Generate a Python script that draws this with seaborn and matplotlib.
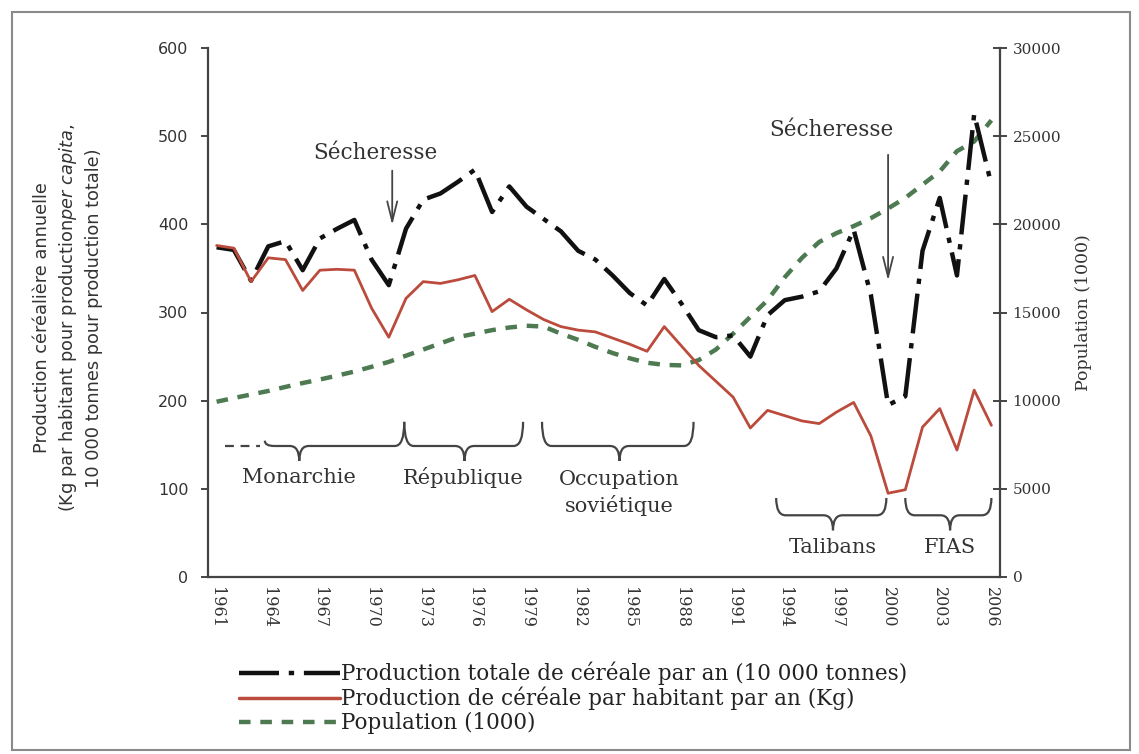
import matplotlib
matplotlib.use("Agg")

import numpy as np
import pandas as pd
import matplotlib.pyplot as plt
import seaborn as sns
from matplotlib.path import Path
from matplotlib.patches import PathPatch, Rectangle
from matplotlib.lines import Line2D

# ---- data ----
years = list(range(1961, 2007))

per_capita = [376, 373, 335, 362, 360, 325, 348, 349, 348, 305,
              272, 316, 335, 333, 337, 342, 301, 315, 303, 292,
              284, 280, 278, 271, 264, 256, 284, 262, 240, 222,
              204, 169, 189, 183, 177, 174, 187, 198, 160, 95,
              99, 170, 191, 144, 212, 172]

total_prod = [374, 371, 336, 375, 381, 348, 384, 395, 405, 360,
              331, 395, 428, 435, 448, 462, 414, 443, 420, 406,
              392, 370, 360, 342, 322, 308, 338, 310, 280, 272,
              274, 250, 297, 314, 318, 324, 350, 394, 320, 195,
              205, 370, 430, 342, 525, 445]

population = [9940, 10150, 10350, 10550, 10780, 11000, 11200, 11420, 11650, 11920,
              12200, 12550, 12900, 13250, 13600, 13800, 14000, 14150, 14250, 14200,
              13800, 13450, 13050, 12700, 12400, 12150, 12030, 12000, 12300, 12900,
              13800, 14750, 15700, 17000, 18100, 19000, 19500, 19900, 20350, 20900,
              21500, 22250, 23000, 24150, 24700, 25900]

label_total = "Production totale de céréale par an (10 000 tonnes)"
label_pc = "Production de céréale par habitant par an (Kg)"
label_pop = "Population (1000)"

# periods: name, start, end, tip position (years)
period_names = ["Monarchie", "République", "Occupation\nsoviétique", "Talibans", "FIAS"]
period_start = [1963.8, 1971.9, 1979.9, 1993.5, 2001.0]
period_end = [1971.9, 1978.8, 1988.7, 1999.9, 2006.0]
period_tip = [1965.8, 1975.4, 1984.4, 1996.8, 2003.6]

drought_years = [1971.2, 2000.0]

BLACK = "#111111"
RED = "#bb4b3c"
GREEN = "#4d7a50"
AXC = "#444444"
SERIF = "DejaVu Serif"

sns.set_theme(style="white")
plt.rcParams["font.family"] = [SERIF, "DejaVu Sans"]
plt.rcParams["mathtext.fontset"] = "custom"
plt.rcParams["mathtext.it"] = "DejaVu Sans:italic"
plt.rcParams["mathtext.rm"] = "DejaVu Sans"

fig = plt.figure(figsize=(11.39, 7.54), dpi=100)
ax = fig.add_axes([208 / 1139, 1 - 577 / 754, 792 / 1139, 529 / 754])
ax2 = ax.twinx()

df = pd.DataFrame({"year": years, "pc": per_capita, "tot": total_prod, "pop": population})

sns.lineplot(data=df, x="year", y="pop", ax=ax2, color=GREEN, lw=3.2)
ax2.lines[-1].set_linestyle((0, (2.6, 2.2)))
sns.lineplot(data=df, x="year", y="tot", ax=ax, color=BLACK, lw=3.2)
ax.lines[-1].set_linestyle((0, (9, 2.2, 1.2, 2.2)))
sns.lineplot(data=df, x="year", y="pc", ax=ax, color=RED, lw=2.0)

ax.set_zorder(ax2.get_zorder() + 1)
ax.patch.set_visible(False)

ax.set_xlim(1960.5, 2006.5)
ax.set_ylim(0, 600)
ax2.set_ylim(0, 30000)

for a in (ax, ax2):
    a.spines["top"].set_visible(False)
    for s in ("left", "right", "bottom"):
        a.spines[s].set_color(AXC)
        a.spines[s].set_linewidth(1.6)
    a.grid(False)
ax.spines["right"].set_visible(False)
ax2.spines["left"].set_visible(False)
ax2.spines["bottom"].set_visible(False)

ax.set_yticks(range(0, 601, 100))
ax.tick_params(axis="y", direction="out", length=5, width=1.4, color=AXC, pad=9,
               labelsize=11.5, labelcolor="#333333")
for t in ax.get_yticklabels():
    t.set_family("DejaVu Sans")

ax2.set_yticks(range(0, 30001, 5000))
ax2.tick_params(axis="y", direction="inout", length=10, width=1.4, color=AXC, pad=4,
                labelsize=11, labelcolor="#333333")

ax.set_xticks(years[::3])
ax.set_xticklabels([str(y) for y in years[::3]], rotation=-90, fontsize=11.5, color="#333333")
ax.set_xticks(np.arange(1960.5, 2007, 1.0), minor=True)
ax.tick_params(axis="x", which="major", length=0, pad=7)
ax.tick_params(axis="x", which="minor", direction="out", length=5, width=1.0, color=AXC)

ax.set_xlabel("")
ax.set_ylabel("")
ax2.set_ylabel("Population (1000)", fontsize=12.5, color="#333333", labelpad=10)

# left axis label, three lines
left_lines = ["Production céréalière annuelle",
              r"(Kg par habitant pour production$\mathit{per\ capita}$,",
              "10 000 tonnes pour production totale)"]
for xp, txt in zip([42, 68, 94], left_lines):
    fig.text(xp / 1139, 1 - 318 / 754, txt, rotation=90, ha="center", va="center",
             fontsize=12.8, family="DejaVu Sans", color="#333333")

# drought annotations
for xd, (tx, ty, y0, y1) in zip(drought_years, [(1970.2, 481, 464, 396), (1996.7, 507, 482, 333)]):
    ax.text(tx, ty, "Sécheresse", ha="center", va="center", fontsize=15.5, color="#333333")
    ax.annotate("", xy=(xd, y1), xytext=(xd, y0),
                arrowprops=dict(arrowstyle="->,head_length=1.2,head_width=0.3",
                                color="#444444", lw=1.3))


def brace(ax, x0, x1, xt, y_top0, y_top1, y_mid, y_tip, w=0.55):
    verts = [(x0, y_top0), (x0, y_mid), (x0 + w, y_mid),
             (xt - w, y_mid), (xt, y_mid), (xt, y_tip),
             (xt, y_mid), (xt + w, y_mid),
             (x1 - w, y_mid), (x1, y_mid), (x1, y_top1)]
    codes = [Path.MOVETO, Path.CURVE3, Path.CURVE3,
             Path.LINETO, Path.CURVE3, Path.CURVE3,
             Path.CURVE3, Path.CURVE3,
             Path.LINETO, Path.CURVE3, Path.CURVE3]
    ax.add_patch(PathPatch(Path(verts, codes), fill=False, ec="#444444", lw=1.6))


upper = dict(top=176, mid=148.6, tip=131.6, text=113)
lower = dict(top=89.6, mid=70, tip=53, text=34)
for i, (name, s, e, t) in enumerate(zip(period_names, period_start, period_end, period_tip)):
    lv = upper if i < 3 else lower
    top0 = lv["top"] if i > 0 else lv["mid"] + 6
    brace(ax, s, e, t, top0, lv["top"], lv["mid"], lv["tip"])
    ty = lv["text"] if "\n" not in name else 95
    ax.text(t if i != 1 else t - 0.1, ty, name, ha="center", va="center", fontsize=15,
            color="#333333", linespacing=1.35)
# dashed extension of the monarchy period before 1961
ax.plot([1961.5, 1963.5], [148.6, 148.6], color="#444444", lw=1.6, ls=(0, (4, 3)))

# legend below
handles = [Line2D([], [], color=BLACK, lw=3.2, ls=(0, (9, 2.2, 1.2, 2.2))),
           Line2D([], [], color=RED, lw=2.5),
           Line2D([], [], color=GREEN, lw=3.2, ls=(0, (2.6, 2.2)))]
fig.legend(handles, [label_total, label_pc, label_pop], loc="upper left",
           bbox_to_anchor=(228 / 1139, 1 - 651 / 754), frameon=False, fontsize=15.5,
           handlelength=4.7, handletextpad=0.05, labelspacing=0.08, borderpad=0,
           labelcolor="#222222")

# outer frame
fig.patches.append(Rectangle((12 / 1139, 4 / 754), 1118 / 1139, 738 / 754,
                             transform=fig.transFigure, fill=False, ec="#8a8a8a", lw=1.5))

fig.savefig("out.png", dpi=100)
